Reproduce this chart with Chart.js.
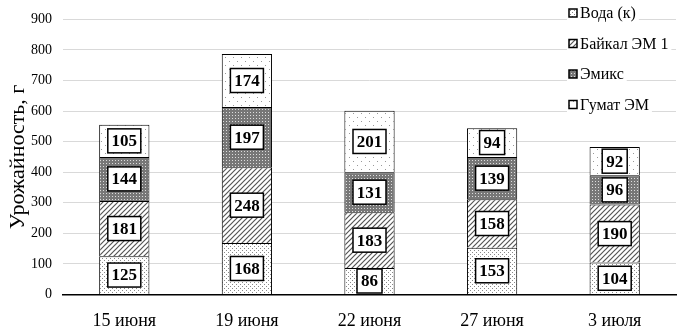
<!DOCTYPE html>
<html>
<head>
<meta charset="utf-8">
<script src="https://cdn.jsdelivr.net/npm/chart.js@4.4.1/dist/chart.umd.min.js"></script>
<style>
  html, body { margin: 0; padding: 0; background: #fff; }
</style>
</head>
<body>
<canvas id="chart" width="691" height="334"></canvas>
<script>
const categories = ['15 июня', '19 июня', '22 июня', '27 июня', '3 июля'];
const seriesNames = ['Вода (к)', 'Байкал ЭМ 1', 'Эмикс', 'Гумат ЭМ'];
const voda = [125, 168, 86, 153, 104];
const baikal = [181, 248, 183, 158, 190];
const emiks = [144, 197, 131, 139, 96];
const gumat = [105, 174, 201, 94, 92];
const yTicks = [0, 100, 200, 300, 400, 500, 600, 700, 800, 900];

const SERIF = '"Liberation Serif", "Times New Roman", serif';

// fill patterns, one per series
function makePattern(kind) {
    const c = document.createElement('canvas');
    const ctx = c.getContext('2d');
    if (kind === 'dots') {
        c.width = 4; c.height = 4;
        ctx.fillStyle = '#fff'; ctx.fillRect(0, 0, 4, 4);
        ctx.fillStyle = '#888';
        ctx.fillRect(0, 0, 1, 1); ctx.fillRect(2, 2, 1, 1);
    } else if (kind === 'hatch') {
        c.width = 5; c.height = 5;
        ctx.fillStyle = '#fff'; ctx.fillRect(0, 0, 5, 5);
        ctx.strokeStyle = '#555'; ctx.lineWidth = 1.2;
        ctx.beginPath();
        ctx.moveTo(-1, 6); ctx.lineTo(6, -1);
        ctx.moveTo(-1, 1); ctx.lineTo(1, -1);
        ctx.moveTo(4, 6); ctx.lineTo(6, 4);
        ctx.stroke();
    } else if (kind === 'dark') {
        c.width = 3; c.height = 3;
        ctx.fillStyle = '#777'; ctx.fillRect(0, 0, 3, 3);
        ctx.fillStyle = '#ddd';
        ctx.fillRect(1, 1, 1, 1);
    } else {
        c.width = 8; c.height = 8;
        ctx.fillStyle = '#fff'; ctx.fillRect(0, 0, 8, 8);
        ctx.fillStyle = '#999';
        ctx.fillRect(1, 1, 1, 1); ctx.fillRect(5, 5, 1, 1);
    }
    return ctx.createPattern(c, 'repeat');
}

const patterns = [makePattern('dots'), makePattern('hatch'), makePattern('dark'), makePattern('sparse')];
const values = [voda, baikal, emiks, gumat];

// white boxed value labels in the middle of each segment
const valueBoxes = {
    id: 'valueBoxes',
    afterDatasetsDraw(chart) {
        const ctx = chart.ctx;
        ctx.save();
        ctx.font = 'bold 17px ' + SERIF;
        ctx.textAlign = 'center';
        ctx.textBaseline = 'middle';
        chart.data.datasets.forEach((ds, di) => {
            chart.getDatasetMeta(di).data.forEach((bar, i) => {
                const txt = String(ds.data[i]);
                const w = txt.length > 2 ? 33 : 25;
                const h = 24;
                const cy = (bar.y + bar.base) / 2;
                ctx.fillStyle = '#fff';
                ctx.fillRect(bar.x - w / 2, cy - h / 2, w, h);
                ctx.strokeStyle = '#000';
                ctx.lineWidth = 1.5;
                ctx.strokeRect(bar.x - w / 2, cy - h / 2, w, h);
                ctx.fillStyle = '#000';
                ctx.fillText(txt, bar.x, cy + 1);
            });
        });
        ctx.restore();
    }
};

// small stacked legend in the top right corner
const cornerLegend = {
    id: 'cornerLegend',
    afterDraw(chart) {
        const ctx = chart.ctx;
        ctx.save();
        ctx.font = '16px ' + SERIF;
        ctx.textBaseline = 'middle';
        const x = 569;
        chart.data.datasets.forEach((ds, i) => {
            const y = 13 + i * 30.5;
            const tw = ctx.measureText(ds.label).width;
            ctx.fillStyle = '#fff';
            ctx.fillRect(x - 2, y - 8, tw + 16, 16);
            ctx.fillStyle = ds.backgroundColor;
            ctx.fillRect(x, y - 4, 8, 8);
            ctx.strokeStyle = '#000';
            ctx.lineWidth = 1.5;
            ctx.strokeRect(x, y - 4, 8, 8);
            ctx.fillStyle = '#000';
            ctx.fillText(ds.label, x + 11, y + 1);
        });
        ctx.restore();
    }
};

new Chart(document.getElementById('chart'), {
    type: 'bar',
    data: {
        labels: categories,
        datasets: seriesNames.map((name, i) => ({
            label: name,
            data: values[i],
            backgroundColor: patterns[i],
            borderColor: '#000',
            borderWidth: 1,
            barPercentage: 0.82,
            categoryPercentage: 0.5
        }))
    },
    options: {
        responsive: false,
        animation: false,
        devicePixelRatio: 1,
        layout: { padding: { left: 5, right: 15, top: 8, bottom: -6 } },
        plugins: {
            legend: { display: false },
            tooltip: { enabled: false }
        },
        scales: {
            x: {
                stacked: true,
                grid: { display: false },
                border: { color: '#000', width: 1.5 },
                ticks: { color: '#000', font: { family: SERIF, size: 18 }, padding: 8, maxRotation: 0 }
            },
            y: {
                stacked: true,
                min: 0,
                max: 900,
                afterBuildTicks(axis) { axis.ticks = yTicks.map(v => ({ value: v })); },
                afterFit(axis) { axis.width = 58; },
                grid: { color: '#d9d9d9', drawTicks: false },
                border: { display: false },
                ticks: { color: '#000', font: { family: SERIF, size: 14 }, padding: 11 },
                title: {
                    display: true,
                    text: 'Урожайность, г',
                    color: '#000',
                    font: { family: SERIF, size: 22 },
                    padding: { top: 0, bottom: 0 }
                }
            }
        }
    },
    plugins: [valueBoxes, cornerLegend]
});
</script>
</body>
</html>
